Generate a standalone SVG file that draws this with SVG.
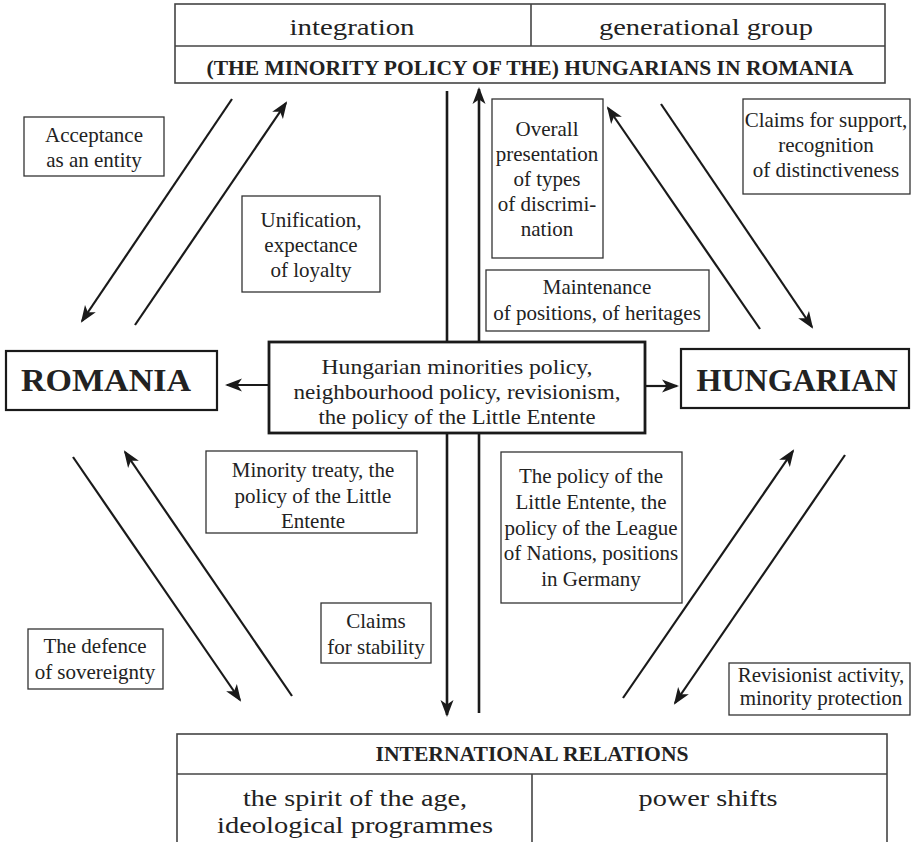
<svg xmlns="http://www.w3.org/2000/svg" width="911" height="842" viewBox="0 0 911 842">
<defs>
<marker id="ah" markerUnits="userSpaceOnUse" markerWidth="18" markerHeight="14" refX="15" refY="6.5" orient="auto" viewBox="0 0 18 13">
<path d="M0,0 L17,6.5 L0,13 L4.5,6.5 z" fill="#1a1a1a"/>
</marker>
<style>
text{font-family:"Liberation Serif","Times New Roman","DejaVu Serif",serif}
.t{fill:#222;text-anchor:middle}
.lbl{font-size:21px}
.pal{font-size:24px}
.b{font-weight:bold}
.box{fill:#fff;stroke:#333;stroke-width:1.3}
.frame{fill:#fff;stroke:#444;stroke-width:1.6}
.main{fill:#fff;stroke:#1a1a1a;stroke-width:2.2}
.center{fill:#fff;stroke:#1a1a1a;stroke-width:2.8}
.arr{stroke:#1a1a1a;stroke-width:2.2;fill:none;marker-end:url(#ah)}
.ln{stroke:#1a1a1a;stroke-width:2.6;fill:none}
</style>
</defs>
<rect width="911" height="842" fill="#fff"/>

<g id="connectors">
<line class="arr" x1="232" y1="99" x2="82" y2="321"/>
<line class="arr" x1="135" y1="325" x2="286" y2="103"/>
<line class="arr" x1="760" y1="329" x2="608" y2="108"/>
<line class="arr" x1="661" y1="104" x2="812" y2="327"/>
<line class="arr" x1="73" y1="457" x2="240" y2="700"/>
<line class="arr" x1="292" y1="696" x2="125" y2="452"/>
<line class="arr" x1="623" y1="698" x2="793" y2="451"/>
<line class="arr" x1="845" y1="455" x2="675" y2="703"/>
<line class="ln" x1="447" y1="91" x2="447" y2="715" style="marker-end:url(#ah)"/>
<line class="ln" x1="479" y1="713" x2="479" y2="89" style="marker-end:url(#ah)"/>
<line class="arr" x1="269" y1="385" x2="227" y2="385"/>
<line class="arr" x1="645" y1="386" x2="677" y2="386"/>
</g>

<g id="top-box" font-family="Liberation Serif, serif">
<rect class="frame" x="175" y="4" width="710" height="79"/>
<line x1="175" y1="46" x2="885" y2="46" stroke="#444" stroke-width="1.6"/>
<line x1="531" y1="4" x2="531" y2="46" stroke="#444" stroke-width="1.6"/>
<text class="t pal" x="352" y="35" textLength="125" lengthAdjust="spacingAndGlyphs">integration</text>
<text class="t pal" x="706" y="35" textLength="214" lengthAdjust="spacingAndGlyphs">generational group</text>
<text class="t b" x="530" y="75" font-size="21" textLength="647" lengthAdjust="spacingAndGlyphs">(THE MINORITY POLICY OF THE) HUNGARIANS IN ROMANIA</text>
</g>

<g id="acceptance">
<rect class="box" x="24" y="117" width="140" height="59"/>
<text class="t lbl" x="94" y="142">Acceptance</text>
<text class="t lbl" x="94" y="167">as an entity</text>
</g>

<g id="unification">
<rect class="box" x="242" y="196" width="138" height="96"/>
<text class="t lbl" x="311" y="227">Unification,</text>
<text class="t lbl" x="311" y="252">expectance</text>
<text class="t lbl" x="311" y="277">of loyalty</text>
</g>

<g id="overall">
<rect class="box" x="492" y="99" width="111" height="159"/>
<text class="t lbl" x="547" y="136">Overall</text>
<text class="t lbl" x="547" y="161">presentation</text>
<text class="t lbl" x="547" y="186">of types</text>
<text class="t lbl" x="547" y="211">of discrimi-</text>
<text class="t lbl" x="547" y="236">nation</text>
</g>

<g id="maintenance">
<rect class="box" x="486" y="270" width="223" height="61"/>
<text class="t lbl" x="597" y="294">Maintenance</text>
<text class="t lbl" x="597" y="320">of positions, of heritages</text>
</g>

<g id="claims-support">
<rect class="box" x="743" y="99" width="167" height="95"/>
<text class="t lbl" x="826" y="127">Claims for support,</text>
<text class="t lbl" x="826" y="152">recognition</text>
<text class="t lbl" x="826" y="177">of distinctiveness</text>
</g>

<g id="romania">
<rect class="main" x="6" y="351" width="211" height="59"/>
<text class="t b" x="106" y="391" font-size="32" textLength="170" lengthAdjust="spacingAndGlyphs">ROMANIA</text>
</g>

<g id="center">
<rect class="center" x="269" y="342" width="376" height="91"/>
<text class="t" x="457" y="374" font-size="21" textLength="271" lengthAdjust="spacingAndGlyphs">Hungarian minorities policy,</text>
<text class="t" x="457" y="399" font-size="21" textLength="327" lengthAdjust="spacingAndGlyphs">neighbourhood policy, revisionism,</text>
<text class="t" x="457" y="424" font-size="21" textLength="277" lengthAdjust="spacingAndGlyphs">the policy of the Little Entente</text>
</g>

<g id="hungarian">
<rect class="main" x="681" y="349" width="228" height="59"/>
<text class="t b" x="797" y="391" font-size="32" textLength="201" lengthAdjust="spacingAndGlyphs">HUNGARIAN</text>
</g>

<g id="minority-treaty">
<rect class="box" x="206" y="451" width="211" height="82"/>
<text class="t lbl" x="313" y="477">Minority treaty, the</text>
<text class="t lbl" x="313" y="503">policy of the Little</text>
<text class="t lbl" x="313" y="528">Entente</text>
</g>

<g id="policy-league">
<rect class="box" x="501" y="452" width="181" height="151"/>
<text class="t lbl" x="591" y="483">The policy of the</text>
<text class="t lbl" x="591" y="509">Little Entente, the</text>
<text class="t lbl" x="591" y="535">policy of the League</text>
<text class="t lbl" x="591" y="560">of Nations, positions</text>
<text class="t lbl" x="591" y="586">in Germany</text>
</g>

<g id="claims-stability">
<rect class="box" x="321" y="603" width="110" height="60"/>
<text class="t lbl" x="376" y="628">Claims</text>
<text class="t lbl" x="376" y="654">for stability</text>
</g>

<g id="defence">
<rect class="box" x="28" y="629" width="135" height="60"/>
<text class="t lbl" x="95" y="653">The defence</text>
<text class="t lbl" x="95" y="679">of sovereignty</text>
</g>

<g id="revisionist">
<rect class="box" x="729" y="663" width="181" height="52"/>
<text class="t lbl" x="821" y="682">Revisionist activity,</text>
<text class="t lbl" x="821" y="705">minority protection</text>
</g>

<g id="bottom-box">
<rect class="frame" x="177" y="734" width="710" height="120"/>
<line x1="177" y1="774" x2="887" y2="774" stroke="#444" stroke-width="1.6"/>
<line x1="532" y1="774" x2="532" y2="842" stroke="#444" stroke-width="1.6"/>
<text class="t b" x="532" y="761" font-size="21" textLength="313" lengthAdjust="spacingAndGlyphs">INTERNATIONAL RELATIONS</text>
<text class="t pal" x="355" y="806" textLength="224" lengthAdjust="spacingAndGlyphs">the spirit of the age,</text>
<text class="t pal" x="355" y="833" textLength="276" lengthAdjust="spacingAndGlyphs">ideological programmes</text>
<text class="t pal" x="708" y="806" textLength="139" lengthAdjust="spacingAndGlyphs">power shifts</text>
</g>
</svg>
